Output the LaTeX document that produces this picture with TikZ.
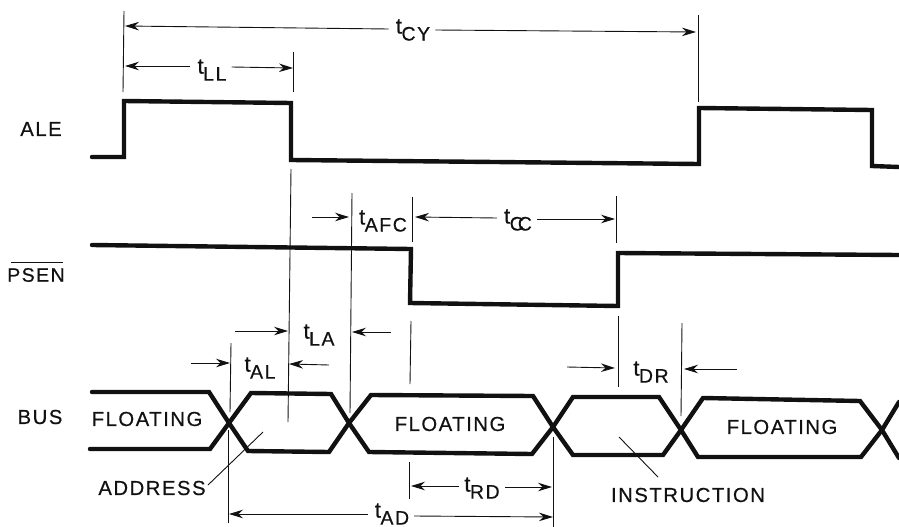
\documentclass[tikz,border=0pt]{standalone}
\usepackage{fontspec}
\setmainfont[LetterSpace=7.5,FakeBold=0.5]{Liberation Sans}
\newfontfamily\subf[LetterSpace=8,FakeBold=0.5]{Liberation Sans}
\usetikzlibrary{arrows.meta}
\definecolor{ink}{HTML}{111111}
\tikzset{
  sig/.style={draw=ink,line width=4.4pt,line join=miter,line cap=round},
  thin line/.style={draw=ink,line width=0.9pt},
  dim/.style={draw=ink,line width=0.9pt,-{Stealth[length=14pt,width=8.5pt]}},
  txt/.style={text=ink,inner sep=0pt,font=\fontsize{20.3}{22}\selectfont},
  tlab/.style={text=ink,inner sep=0pt,font=\fontsize{22}{24}\selectfont}
}
\newcommand{\tsub}[1]{t\kern-0.5pt\raisebox{-7pt}{\fontsize{19.5}{20}\subf #1}}
\begin{document}
\begin{tikzpicture}[x=1pt,y=-1pt]
\useasboundingbox (0,0) rectangle (899,527);
% signals
\draw[sig] (92,157) -- (124,157) -- (124,101) -- (291,103) -- (291,160) -- (699,164) -- (699,108) -- (872,110) -- (872,166) -- (899,167);
\draw[sig] (92,245) -- (411,249) -- (410,303) -- (618,306) -- (618,253) -- (899,255);
\draw[sig] (92,392) -- (209,392) -- (229,423) -- (248,451) -- (329,452) -- (349,423) -- (369,452) -- (532,454) -- (553,427) -- (573,455) -- (663,455) -- (681,430) -- (698,457) -- (861,457) -- (882,430) -- (899,402);
\draw[sig] (90,449) -- (210,449) -- (229,423) -- (251,393) -- (331,394) -- (349,423) -- (371,395) -- (533,396) -- (553,427) -- (573,397) -- (659,397) -- (681,430) -- (703,398) -- (860,401) -- (882,430) -- (899,458);
% extension lines
\draw[thin line] (124,11) -- (123,92);
\draw[thin line] (698,15) -- (698,102);
\draw[thin line] (293,52) -- (293,92);
\draw[thin line] (291,169) -- (288,422);
\draw[thin line] (352,193) -- (350,413);
\draw[thin line] (412,197) -- (412,242);
\draw[thin line] (616,196) -- (616,243);
\draw[thin line] (411,321) -- (410,384);
\draw[thin line] (618,316) -- (618,387);
\draw[thin line] (682,323) -- (681,416);
\draw[thin line] (231,343) -- (230,412);
\draw[thin line] (228,430) -- (228,523);
\draw[thin line] (409,462) -- (409,499);
\draw[thin line] (553,437) -- (553,527);
% leaders
\draw[thin line] (208,485) -- (263,432);
\draw[thin line] (619,437) -- (658,477);
% dimension arrows
\node[tlab] (cy) at (413,30) {\tsub{CY}};
\draw[dim] (cy.west) ++(-7,-1) -- (125,26);
\draw[dim] (cy.east) ++(5,0) -- (696,32);
\node[tlab] (ll) at (212,70) {\tsub{LL}};
\draw[dim] (ll.west) ++(-7,-4) -- (125,66);
\draw[dim] (ll.east) ++(5,-3) -- (293,68);
\node[tlab] (afc) at (383,221) {\tsub{AFC}};
\draw[dim] (312,217) -- (349,217);
\node[tlab] (cc) at (518,220) {\tsub{C\kern-6pt C}};
\draw[dim] (cc.west) ++(-7,-2) -- (415,217);
\draw[dim] (cc.east) ++(5,-1) -- (615,219);
\node[tlab] (la) at (319,335) {\tsub{LA}};
\draw[dim] (235,331) -- (288,331);
\draw[dim] (391,332) -- (352,332);
\node[tlab] (al) at (260,368) {\tsub{AL}};
\draw[dim] (191,363) -- (230,363);
\draw[dim] (329,365) -- (289,364);
\node[tlab] (dr) at (651,372) {\tsub{DR}};
\draw[dim] (567,367) -- (615,368);
\draw[dim] (737,369) -- (684,369);
\node[tlab] (rd) at (482,488) {\tsub{RD}};
\draw[dim] (459,486) -- (411,486);
\draw[dim] (505,487) -- (552,487);
\node[tlab] (ad) at (392,514) {\tsub{AD}};
\draw[dim] (368,514) -- (229,514);
\draw[dim] (414,516) -- (553,517);
% texts
\node[txt] (f1) at (147,419) {FLOATING};
\node[txt] (f2) at (450,424) {FLOATING};
\node[txt] (f3) at (782,427) {FLOATING};
\node[txt] (addr) at (152,488) {ADDRESS};
\node[txt] (instr) at (688,495) {INSTRUCTION};
\node[txt] (ale) at (41,129) {ALE};
\node[txt,font=\fontsize{19.5}{22}\selectfont] (psen) at (36,275) {PSEN};
\draw[thin line] (11,262) -- (63,262);
\node[txt] (bus) at (40,417) {BUS};
\end{tikzpicture}
\end{document}
